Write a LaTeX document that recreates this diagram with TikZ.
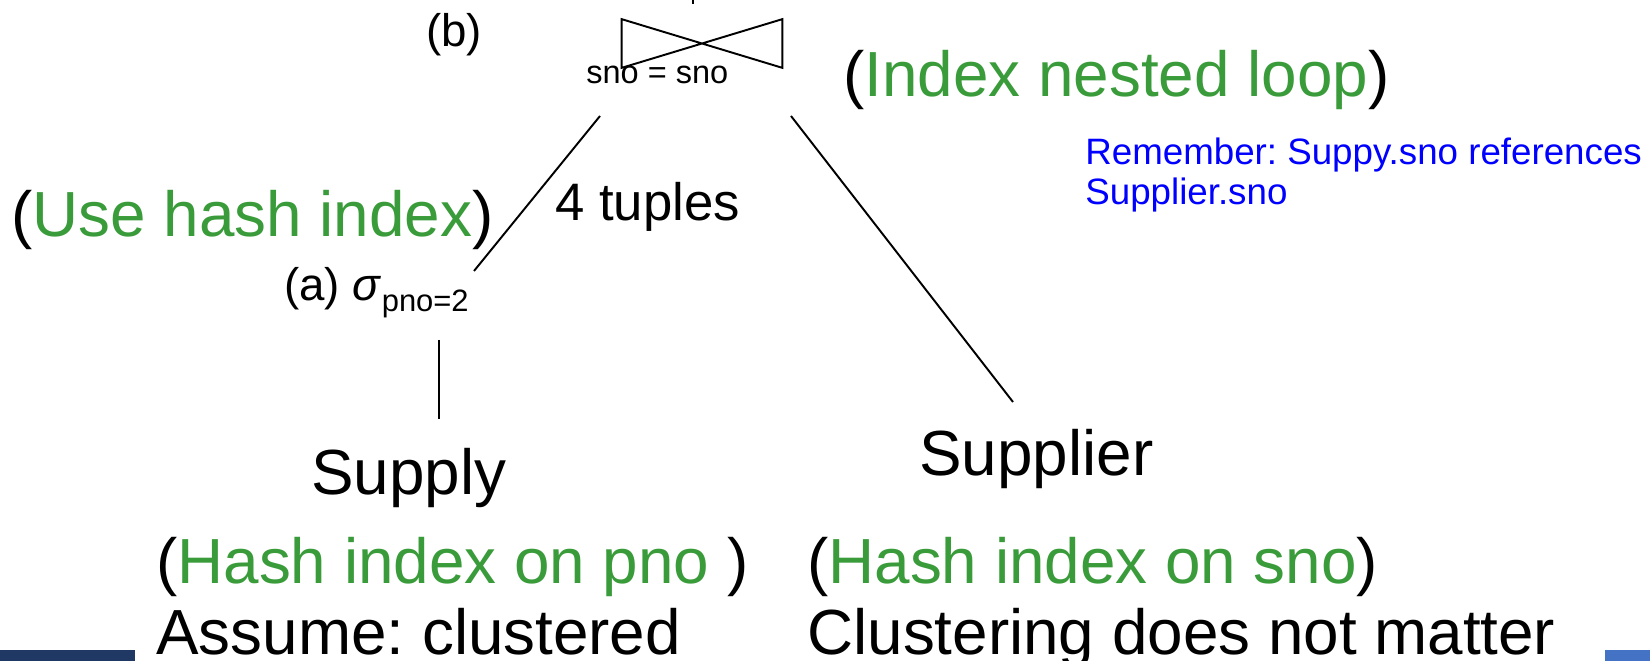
\documentclass[tikz,border=0pt]{standalone}
\usepackage{fontspec}
\setmainfont{Liberation Sans}
\frenchspacing
\definecolor{grn}{RGB}{57,155,57}
\definecolor{rem}{RGB}{0,0,255}
\definecolor{navy}{HTML}{1F3864}
\definecolor{slideblue}{HTML}{4472C4}
\begin{document}
\begin{tikzpicture}[x=0.02cm, y=-0.02cm]
   \tikzstyle{big} = [anchor=base west, inner sep=0,
                      font=\fontsize{36.3}{43}\selectfont];
   \tikzstyle{mid} = [anchor=base west, inner sep=0,
                      font=\fontsize{30}{35}\selectfont];
   \tikzstyle{lab} = [anchor=base west, inner sep=0,
                      font=\fontsize{26}{31}\selectfont];
   \tikzstyle{small} = [anchor=base west, inner sep=0,
                      font=\fontsize{18.5}{22}\selectfont];
   \tikzstyle{remark} = [anchor=base west, inner sep=0, align=left,
                      text=rem, font=\fontsize{20.9}{23.3}\selectfont];
   \tikzstyle{ln} = [black, line width=1.1pt, -];

    \useasboundingbox (0,0) rectangle (1650,661);

    %% slide bars
    \fill[navy] (0,650) rectangle (135,661);
    \fill[slideblue] (1605,650) rectangle (1650,661);

    %% join operator
    \node[inner sep=0, minimum width=3.2cm, minimum height=0.96cm]
         (join) at (702,43.5) {};
    \draw[ln, line join=miter] (join.north west) -- (join.south east)
         -- (join.north east) -- (join.south west) -- cycle;
    \node[lab] (b) at (426,47) {(b)};
    \node[small] (cond) at (586,84) {sno = sno};
    \node[big] (nlj) at (843,97)
         {(\textcolor{grn}{Index nested loop})};
    \node[remark] (note) at (1085,205)
         {Remember: Suppy.sno references\\Supplier.sno};

    %% selection
    \node[big] (hashidx) at (11,237)
         {(\textcolor{grn}{Use hash index})};
    \node[mid] (tuples) at (555,221) {4 tuples};
    \node[lab] (sel) at (284,301)
         {(a) \textit{σ}\raisebox{-0.22em}{\fontsize{17.6}{20}\selectfont pno=2}};

    %% relations
    \node[big] (supply) at (311,495) {Supply};
    \node[big] (supplier) at (919,476) {Supplier};
    \node[big] (idxpno) at (156,584)
         {(\textcolor{grn}{Hash index on pno} )};
    \node[big] (clus) at (156,655) {Assume: clustered};
    \node[big] (idxsno) at (807,584)
         {(\textcolor{grn}{Hash index on sno})};
    \node[big] (nomatter) at (807,655) {Clustering does not matter};

    %% connector ends
    \coordinate (up0) at (693,-2);
    \coordinate (up1) at (693,4);
    \coordinate (jl) at (600,116);
    \coordinate (jr) at (791,116);
    \coordinate (sl) at (474,271);
    \coordinate (st) at (439,340);
    \coordinate (sb) at (439,419);
    \coordinate (rt) at (1013,402);

    \path[ln] (up0) edge (up1);
    \path[ln] (jl) edge (sl);
    \path[ln] (jr) edge (rt);
    \path[ln] (st) edge (sb);

  \end{tikzpicture}
\end{document}
